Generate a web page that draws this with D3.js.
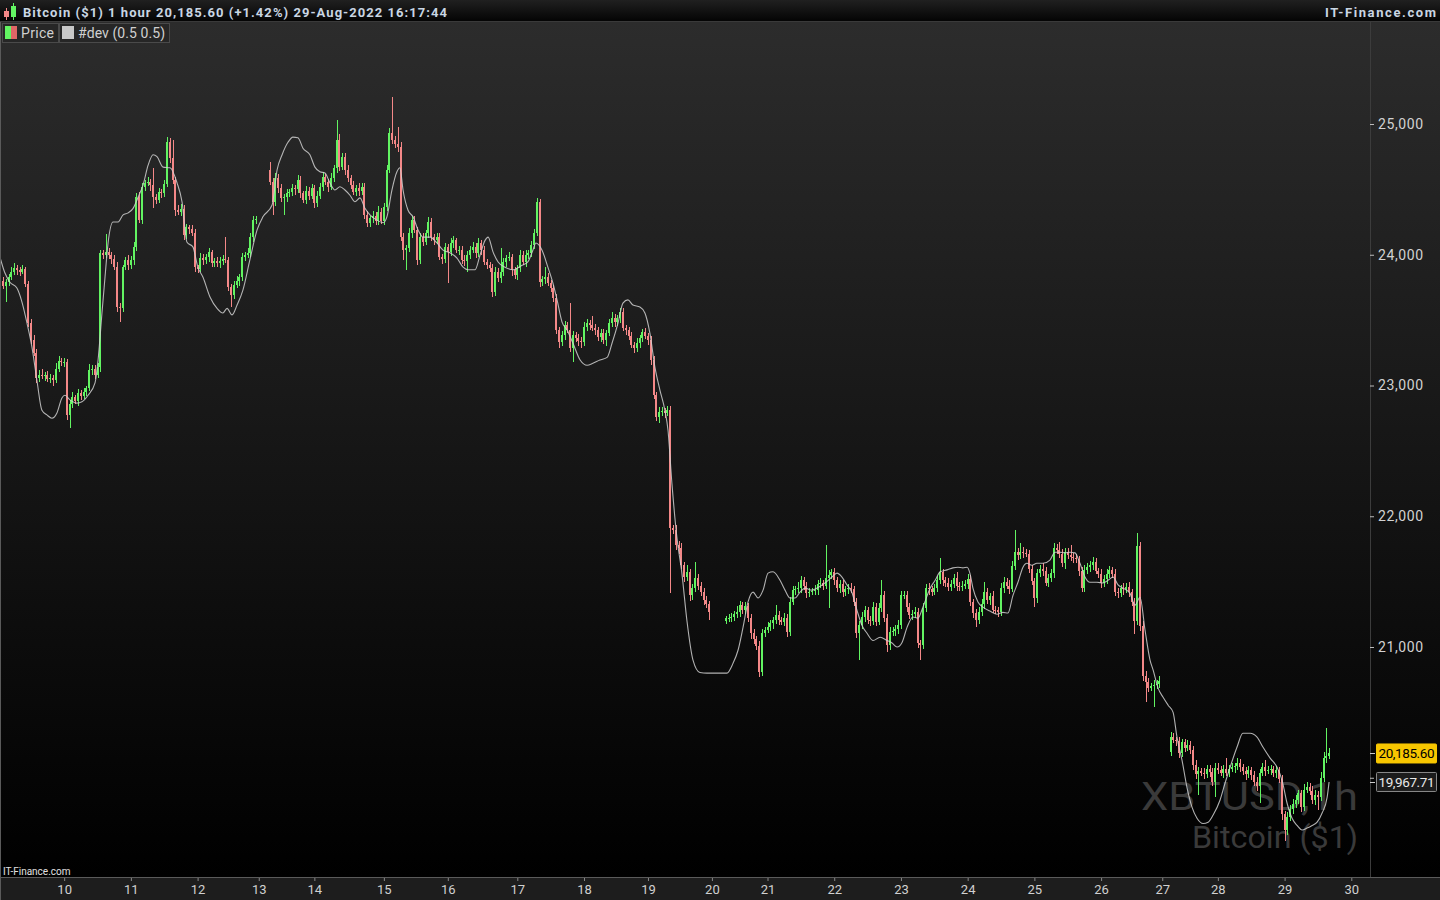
<!DOCTYPE html>
<html><head><meta charset="utf-8">
<script src="https://cdn.jsdelivr.net/npm/d3@7"></script>
<style>html,body{margin:0;padding:0;background:#000;overflow:hidden}svg{display:block}</style>
</head><body>
<svg id="c" width="1440" height="900"></svg>
<script>
// ---------------- DATA (hourly bars, Bitcoin ($1), 9-29 Aug 2022) ----------------
const closes = [
23760,23790,23830,23870,23900,23880,23870,23890,23780,23480,
23350,23250,23060,23080,23070,23080,23050,23060,23040,23130,
23190,23180,23180,22775,22860,22910,22880,22940,22920,22950,
22980,23120,23130,23080,23140,24010,24000,24020,24000,23970,
23910,23600,23590,23905,23960,23920,23960,24060,24440,24265,
24520,24550,24560,24530,24440,24420,24480,24470,24540,24860,
24740,24570,24340,24330,24350,24150,24210,24200,24170,23905,
23890,23975,23960,23980,24020,23935,23950,23940,23950,23970,
23960,23755,23690,23770,23800,23830,23985,24000,24010,24135,
24265,24270,null,null,null,null,24560,24400,24590,24510,
24435,24440,24470,24480,24510,24500,24570,24470,24420,24490,
24450,24510,24395,24450,24520,24595,24560,24520,24590,24660,
24880,24670,24750,24650,24590,24535,24480,24510,24490,24520,
24305,24240,24280,24300,24260,24330,24260,24365,24650,24930,
24880,24850,24825,24135,24035,24050,24165,24265,24190,23960,
24135,24100,24165,24250,24135,24110,24135,23985,23970,24060,
24020,24090,24110,24035,24040,23960,23950,24000,24040,24060,
24010,24090,24040,23945,23920,23900,23715,23870,23820,23870,
23945,23975,23985,23880,23845,23900,23998,23945,24000,24015,
24075,24165,24400,23790,23815,23830,23785,23745,23670,23425,
23330,23385,23460,23425,23285,23385,23360,23340,23330,23445,
23475,23460,23440,23425,23370,23400,23345,23400,23475,23520,
23485,23515,23560,23440,23425,23380,23310,23285,23325,23360,
23410,23380,23345,23195,22925,22760,22795,22805,22790,22810,
21910,21895,21780,21755,21625,21535,21570,21395,21450,21525,
21470,21420,21360,21330,21270,null,null,null,null,null,
21220,21225,21230,21250,21270,21320,21285,21310,21225,21105,
21060,21010,20810,21110,21130,21155,21180,21205,21245,21205,
21195,21225,21115,21345,21435,21440,21450,21510,21465,21410,
21420,21430,21435,21480,21490,21470,21530,21550,21570,21510,
21450,21480,21420,21440,21450,21440,21345,21105,21165,21230,
21280,21205,21200,21305,21190,21300,21395,21225,21015,21115,
21120,21140,21165,21395,21400,21305,21245,21255,21265,21030,
21015,21300,21450,21440,21420,21455,21510,21570,21510,21490,
21460,21480,21530,21470,21460,21470,21480,21520,21345,21260,
21205,21270,21330,21420,21360,21390,21285,21280,21270,21450,
21500,21470,21445,21620,21730,21700,21730,21720,21715,21600,
21505,21375,21565,21600,21580,21490,21530,21565,21755,21740,
21715,21640,21730,21700,21690,21680,21670,21580,21450,21590,
21610,21630,21650,21580,21560,21490,21520,21560,21590,21560,
21420,21410,21450,21440,21460,21420,21345,21200,21770,21160,
20780,20730,20690,20700,20710,20720,20740,null,null,null,
20310,20290,20280,20190,20270,20230,20250,20215,20100,20025,
20050,20040,20025,20070,20045,19970,20075,20060,20040,20070,
20040,20070,20080,20090,20110,20080,20050,20025,20060,20020,
19970,19935,20040,20080,20050,20060,20065,20035,20060,19990,
19720,19600,19700,19760,19800,19830,19880,19780,19910,19930,
19900,19830,19870,19850,20000,20150,20170,20185.6];

// opening price of the first bar after each data gap: [bar, open]
const sessionOpens = [[0,23800],[96,24650],[260,21200],[420,20195]];

// wick lengths above / below the body, in $
const upWick = [
30,25,20,35,40,20,25,30,15,20, 25,40,30,35,45,20,30,25,20,40,
35,20,30,25,30,40,20,35,25,30, 20,45,30,25,35,30,25,140,30,20,
25,35,30,20,25,35,30,40,30,40, 30,25,35,20,130,25,30,20,35,40,
30,140,25,40,35,30,25,20,30,25, 20,35,30,25,30,20,25,35,30,30,
165,25,20,30,35,25,30,20,40,35, 30,25,0,0,0,0,60,30,35,25,
30,25,35,20,30,25,40,30,20,35, 25,30,20,35,30,40,25,20,35,30,
150,40,30,25,35,20,30,25,35,30, 25,30,20,35,30,40,25,30,35,40,
275,30,125,35,30,25,40,35,30,25, 30,35,25,40,30,25,30,35,20,30,
25,35,30,20,25,30,35,30,25,40, 30,35,25,30,20,25,30,35,25,180,
30,25,35,20,30,25,40,30,35,25, 30,35,35,30,25,75,30,25,20,30,
25,35,30,25,205,30,25,35,30,40, 30,25,75,30,25,35,30,25,30,40,
30,25,30,35,25,20,30,25,35,30, 25,30,20,35,30,25,40,30,25,35,
30,25,35,30,40,25,60,30,35,125, 30,25,35,30,25,0,0,0,0,0,
20,25,30,25,40,30,25,35,30,25, 30,25,35,30,25,40,30,25,75,30,
25,35,30,40,35,30,45,30,25,35, 30,25,40,30,35,25,250,40,30,35,
25,30,35,25,30,40,25,30,35,40, 30,25,35,40,30,35,115,30,25,35,
30,25,40,35,30,25,35,30,40,30, 25,35,30,40,25,30,35,110,30,25,
35,30,25,40,30,35,30,40,30,25, 30,35,40,75,30,25,35,30,25,40,
35,30,40,35,165,30,65,35,30,25, 30,25,35,30,40,30,25,35,40,30,
60,35,30,25,80,30,35,25,30,35, 30,25,35,30,25,40,30,35,30,25,
35,30,25,40,30,35,25,30,100,30, 40,35,30,25,40,30,35,0,0,0,
40,30,25,35,30,25,40,30,25,35, 30,25,35,30,25,30,35,40,30,25,
80,30,35,25,40,30,25,35,30,25, 30,35,25,30,55,30,35,25,30,25,
30,25,35,30,40,35,30,25,40,35, 30,40,35,30,45,50,210,40];
const dnWick = [
25,120,30,20,25,35,30,20,25,30, 35,25,40,30,20,35,25,30,40,20,
25,30,35,40,100,30,25,35,30,20, 30,25,40,30,25,35,30,25,30,40,
30,35,105,30,25,40,30,35,30,25, 30,35,25,40,80,30,25,35,30,20,
35,30,40,25,30,35,30,40,25,35, 30,25,40,30,35,25,30,35,40,30,
25,35,90,30,25,40,30,35,25,30, 35,30,0,0,0,0,30,95,25,35,
30,130,35,25,30,40,30,35,25,30, 35,25,40,30,25,35,30,40,25,30,
35,30,25,40,30,35,25,30,40,30, 35,25,30,40,35,30,25,35,30,25,
30,35,40,30,75,150,30,35,25,40, 30,35,25,40,30,35,30,25,40,30,
235,30,35,25,40,30,35,80,30,25, 35,30,40,25,30,35,40,30,25,35,
30,35,25,40,30,35,30,25,40,30, 35,30,25,35,30,40,25,30,35,30,
40,30,35,25,30,105,30,35,40,25, 30,35,25,40,30,35,30,40,25,30,
35,30,40,25,35,30,25,40,30,35, 30,25,35,40,30,35,45,30,40,25,
500,30,35,40,30,35,30,40,35,30, 35,30,40,35,65,0,0,0,0,0,
25,30,35,30,25,40,30,35,30,40, 35,30,40,30,35,25,30,40,30,35,
30,35,40,30,25,35,30,40,30,35, 30,25,35,40,30,35,30,230,30,35,
30,35,40,30,35,25,30,35,205,30, 35,30,40,35,30,25,35,30,55,40,
30,35,40,30,25,35,30,40,30,35, 115,30,35,40,30,25,35,30,40,30,
35,30,25,40,30,35,30,40,30,35, 55,30,35,40,30,35,25,30,40,30,
35,30,40,25,30,35,30,40,30,35, 30,70,35,30,40,25,30,35,40,30,
35,30,40,25,30,35,30,40,30,30, 30,35,40,25,30,35,30,40,30,35,
30,35,25,40,30,35,30,100,30,35, 40,150,35,30,160,35,30,0,0,0,
30,25,35,40,30,35,25,30,40,35, 160,30,35,25,40,30,120,35,30,40,
30,35,25,40,30,35,30,40,25,35, 30,40,125,30,35,25,40,30,35,30,
40,80,35,30,40,35,30,40,35,30, 35,30,40,100,30,35,40,30];

// "#dev (0.5 0.5)" indicator: [bar, value]
const devPoints = [
[-1,23975],[0.7,23860],[2.5,23790],[5,23745],[6.8,23640],[8.6,23480],[10.4,23295],[12.2,23040],[14,22810],[15.8,22775],
[17.6,22750],[19.4,22790],[21.2,22905],[22.3,22925],[24.1,22890],[26.6,22865],[28.4,22875],[30.6,22925],[33.1,23020],[34.2,23195],
[35.6,23555],[36.7,23830],[37.8,24090],[39.6,24250],[41.4,24250],[43.2,24305],[45,24320],[46.8,24355],[48.6,24440],[50.4,24535],
[52.2,24685],[54,24765],[55.4,24750],[57.6,24670],[60.1,24665],[62.6,24550],[64.4,24405],[66.2,24095],[68.3,24060],[70.1,23905],
[71.9,23830],[74.5,23675],[77,23590],[79.1,23555],[80.6,23590],[82.4,23540],[84.2,23615],[86.3,23730],[88.8,23960],[91.4,24190],
[93.5,24290],[96.8,24380],[98.6,24650],[100.4,24765],[102.5,24860],[104.3,24900],[106.1,24895],[107.9,24815],[110.4,24765],[112.2,24670],
[114,24635],[115.8,24625],[117.6,24550],[119.4,24495],[121.2,24520],[123,24495],[124.8,24455],[126.6,24405],[128.4,24435],[130.2,24355],
[132,24305],[134.5,24265],[136.7,24245],[138.1,24290],[139.9,24495],[141.7,24635],[142.8,24665],[143.9,24495],[145.7,24340],[147.5,24290],
[149.3,24190],[151.1,24135],[153.6,24135],[156.1,24090],[158.3,24035],[160.8,24015],[163.3,23975],[165.5,23905],[167.3,23885],[169.8,23885],
[171.6,23998],[173.4,24110],[174.5,24135],[176.3,24020],[178.1,23945],[180.6,23905],[183.5,23885],[186.7,23920],[188.8,23945],[190.6,24035],
[191.7,24090],[193.9,24035],[196,23905],[197.8,23785],[199.3,23655],[201.1,23485],[202.9,23425],[205,23325],[207.6,23195],[210.1,23155],
[212.2,23170],[214.7,23195],[217.3,23215],[219.1,23325],[221.2,23475],[223,23630],[224.8,23655],[226.6,23615],[229.1,23600],[230.9,23555],
[232.7,23400],[234.5,23140],[236.3,22965],[238.1,22810],[239.2,22660],[240.6,22255],[242.4,21840],[244.2,21565],[246,21205],[248.2,20900],
[250.7,20805],[253.2,20800],[260.4,20800],[262.6,20875],[264.4,20975],[266.2,21150],[268,21345],[269.8,21420],[271.6,21375],[273.4,21435],
[275.2,21565],[277,21575],[279.5,21510],[281.3,21435],[283.1,21375],[284.9,21375],[286.7,21420],[288.5,21450],[291,21435],[293.2,21455],
[295.7,21490],[298.2,21535],[300,21565],[301.8,21535],[303.6,21475],[305.4,21415],[307.2,21280],[309,21165],[310.8,21105],[313,21050],
[315.5,21075],[318,21050],[319.8,21030],[321.6,21000],[323.4,21035],[325.2,21150],[327.3,21230],[329.1,21220],[330.9,21305],[333.5,21450],
[335.3,21510],[337.1,21575],[339.6,21590],[341.7,21605],[343.5,21610],[345.3,21605],[346.8,21610],[347.8,21565],[348.9,21450],[350.7,21345],
[352.5,21305],[355,21275],[357.6,21250],[359.7,21265],[361.5,21260],[363.3,21395],[365.1,21495],[366.9,21610],[368.3,21640],[370.1,21625],
[371.9,21640],[374.1,21640],[376.6,21665],[378.4,21725],[380.2,21725],[382,21720],[383.8,21725],[385.6,21720],[387.4,21640],[389.2,21535],
[391,21495],[393.5,21495],[395.7,21490],[397.5,21510],[399.3,21535],[401.1,21475],[402.9,21450],[405.4,21410],[407.2,21320],[409,21380],
[410.8,21130],[412.6,20900],[413.7,20825],[415.5,20685],[417.3,20615],[419.1,20555],[420.9,20500],[422.3,20310],[424.1,20135],[425.9,19925],
[427.7,19775],[429.5,19690],[431.7,19650],[433.5,19660],[435.3,19715],[437.8,19830],[439.6,19960],[441.4,20080],[443.9,20235],[446,20340],
[448.6,20340],[451.1,20310],[453.2,20235],[455.8,20150],[458.3,20080],[460.1,19980],[461.9,19805],[463.7,19690],[465.5,19635],[467.3,19600],
[469.1,19615],[470.9,19635],[472.7,19660],[474.5,19730],[476.3,19850],[477,19967.71]];

const dayLabels = ["10","11","12","13","14","15","16","17","18","19","20","21","22","23","24","25","26","27","28","29","30"];
const dayBars   = [22,46,70,92,112,137,160,185,209,232,255,275,299,323,347,371,395,417,437,461,485];
const priceTicks = [20000,21000,22000,23000,24000,25000];
const lastPrice = 20185.60;
const devLast = 19967.71;
const headerTitle = "Bitcoin ($1) 1 hour 20,185.60 (+1.42%) 29-Aug-2022 16:17:44";
const brand = "IT-Finance.com";
const legendItems = ["Price", "#dev (0.5 0.5)"];
const watermark = ["XBTUSD,1h", "Bitcoin ($1)"];

// ---------------- LAYOUT ----------------
const W = 1440, H = 900;
const plot = {left: 1, right: 1370, top: 22, bottom: 877};
const UP = "#62f462", DN = "#f48888";
const FONT = "Roboto, 'Noto Sans', sans-serif";
const svg = d3.select("#c");
const defs = svg.append("defs");

const bg = defs.append("linearGradient").attr("id","bg").attr("x1",0).attr("y1",0).attr("x2",0).attr("y2",1);
bg.append("stop").attr("offset","0%").attr("stop-color","#2c2c2c");
bg.append("stop").attr("offset","100%").attr("stop-color","#000");
const hg = defs.append("linearGradient").attr("id","hg").attr("x1",0).attr("y1",0).attr("x2",0).attr("y2",1);
hg.append("stop").attr("offset","0%").attr("stop-color","#202020");
hg.append("stop").attr("offset","100%").attr("stop-color","#030303");
defs.append("clipPath").attr("id","clip").append("rect")
  .attr("x",plot.left).attr("y",plot.top).attr("width",plot.right-plot.left).attr("height",plot.bottom-plot.top);

// backgrounds
svg.append("rect").attr("x",0).attr("y",plot.top).attr("width",W).attr("height",plot.bottom-plot.top).attr("fill","url(#bg)");
svg.append("rect").attr("x",0).attr("y",0).attr("width",W).attr("height",plot.top).attr("fill","url(#hg)");
svg.append("rect").attr("x",0).attr("y",plot.bottom).attr("width",W).attr("height",H-plot.bottom).attr("fill","#1d1d1d");
svg.append("line").attr("x1",0).attr("x2",W).attr("y1",plot.bottom+0.5).attr("y2",plot.bottom+0.5).attr("stroke","#5a5a5a");
svg.append("line").attr("x1",0.5).attr("x2",0.5).attr("y1",plot.top).attr("y2",H).attr("stroke","#5a5a5a");
svg.append("line").attr("x1",plot.right+0.5).attr("x2",plot.right+0.5).attr("y1",plot.top).attr("y2",plot.bottom).attr("stroke","#3c3c3c");
svg.append("line").attr("x1",0).attr("x2",W).attr("y1",plot.top-0.5).attr("y2",plot.top-0.5).attr("stroke","#3a3a3a");

// scales
const x = d3.scaleLinear().domain([0, 477]).range([3, 3 + 2.78*477]);
const y = d3.scaleLinear().domain([21000, 25000]).range([647, 124]);

// watermark
const wm = svg.append("g").attr("fill","#3a3a3a").attr("font-family",FONT).attr("text-anchor","end");
wm.append("text").attr("x",1358).attr("y",810).attr("font-size",39).attr("textLength",217).attr("lengthAdjust","spacingAndGlyphs").text(watermark[0]);
wm.append("text").attr("x",1358).attr("y",848).attr("font-size",31).attr("textLength",166).attr("lengthAdjust","spacingAndGlyphs").text(watermark[1]);

// bars
const bars = [];
const so = new Map(sessionOpens);
closes.forEach((c,i) => {
  if (c == null) return;
  const o = so.has(i) ? so.get(i) : closes[i-1];
  const h = Math.max(o,c) + upWick[i], l = Math.min(o,c) - dnWick[i];
  bars.push({i, o, h, l, c});
});

const g = svg.append("g").attr("clip-path","url(#clip)").attr("shape-rendering","crispEdges");
const cg = g.selectAll("g.bar").data(bars).join("g").attr("class","bar");
cg.append("rect")
  .attr("x", d => Math.round(x(d.i)))
  .attr("width", 1)
  .attr("y", d => y(d.h))
  .attr("height", d => Math.max(1, y(d.l) - y(d.h)))
  .attr("fill", d => d.c >= d.o ? UP : DN);
cg.append("rect")
  .attr("x", d => Math.round(x(d.i)) - 1)
  .attr("width", 2)
  .attr("y", d => y(Math.max(d.o,d.c)))
  .attr("height", d => Math.max(1, Math.abs(y(d.o) - y(d.c))))
  .attr("fill", d => d.c >= d.o ? UP : DN);

// dev line
svg.append("g").attr("clip-path","url(#clip)").append("path")
  .datum(devPoints)
  .attr("fill","none").attr("stroke","#cfcfcf").attr("stroke-opacity",0.85).attr("stroke-width",1.1)
  .attr("d", d3.line().x(d => x(d[0])).y(d => y(d[1])).curve(d3.curveMonotoneX));

// y axis
const ya = svg.append("g").attr("transform",`translate(${plot.right},0)`)
  .call(d3.axisRight(y).tickValues(priceTicks).tickFormat(d3.format(",")).tickSize(4).tickPadding(4));
ya.select(".domain").remove();
ya.selectAll("line").attr("stroke","#bbb");
ya.selectAll("text").attr("fill","#d2d2d2").attr("font-size",14).attr("letter-spacing","0.6px").attr("font-family",FONT);

// value labels on the y axis
function tag(v, fill, stroke, color, txt){
  const gy = y(v);
  const t = svg.append("g");
  t.append("line").attr("x1",plot.right).attr("x2",plot.right+5).attr("y1",Math.round(gy)+0.5).attr("y2",Math.round(gy)+0.5).attr("stroke","#ccc");
  t.append("rect").attr("x",1376.5).attr("y",gy-9.5).attr("width",60).attr("height",19)
    .attr("fill",fill).attr("stroke",stroke).attr("rx",1);
  t.append("text").attr("x",1406.5).attr("y",gy+5).attr("text-anchor","middle")
    .attr("font-family",FONT).attr("font-size",13.5).attr("fill",color)
    .attr("textLength",56).attr("lengthAdjust","spacing").text(txt);
}
tag(lastPrice, "#f7c600", "#f7c600", "#000", d3.format(",.2f")(lastPrice));
tag(devLast, "#1c1c1c", "#8a8a8a", "#e8e8e8", d3.format(",.2f")(devLast));

// x axis
const xa = svg.append("g").attr("transform",`translate(0,${plot.bottom+1})`)
  .call(d3.axisBottom(x).tickValues(dayBars).tickFormat((d,i) => dayLabels[i]).tickSize(3).tickPadding(4));
xa.select(".domain").remove();
xa.selectAll("line").attr("stroke","#888");
xa.selectAll("text").attr("fill","#d0d0d0").attr("font-size",13).attr("font-family",FONT);

svg.append("text").attr("x",3).attr("y",875).attr("font-size",10).attr("fill","#e0e0e0")
  .attr("font-family",FONT).text(brand);

// header
const ic = svg.append("g").attr("shape-rendering","crispEdges");
ic.append("rect").attr("x",6).attr("y",8).attr("width",1).attr("height",12).attr("fill",DN);
ic.append("rect").attr("x",4).attr("y",11).attr("width",5).attr("height",6).attr("fill",DN);
ic.append("rect").attr("x",13).attr("y",3).attr("width",1).attr("height",17).attr("fill",UP);
ic.append("rect").attr("x",11).attr("y",6).attr("width",5).attr("height",11).attr("fill",UP);
svg.append("text").attr("x",23).attr("y",17).attr("font-size",13).attr("font-weight","bold")
  .attr("font-family",FONT).attr("fill","#c9d6e3")
  .attr("textLength",424).attr("lengthAdjust","spacing").text(headerTitle);
svg.append("text").attr("x",1436).attr("y",17).attr("font-size",13).attr("font-weight","bold").attr("text-anchor","end")
  .attr("font-family",FONT).attr("fill","#c9d6e3")
  .attr("textLength",111).attr("lengthAdjust","spacing").text(brand);

// legend
const lg = svg.append("g").attr("font-family",FONT).attr("font-size",14).attr("fill","#d0d0d0");
lg.append("rect").attr("x",2.5).attr("y",23.5).attr("width",56).attr("height",19).attr("fill","#262626").attr("stroke","#4a4a4a");
lg.append("rect").attr("x",5).attr("y",26).attr("width",6).attr("height",13).attr("fill",UP);
lg.append("rect").attr("x",11).attr("y",26).attr("width",6).attr("height",13).attr("fill","#e06666");
lg.append("text").attr("x",21).attr("y",38).attr("textLength",33).attr("lengthAdjust","spacing").text(legendItems[0]);
lg.append("rect").attr("x",59.5).attr("y",23.5).attr("width",110).attr("height",19).attr("fill","#262626").attr("stroke","#4a4a4a");
lg.append("rect").attr("x",62).attr("y",26).attr("width",12).attr("height",13).attr("fill","#c8c8c8");
lg.append("text").attr("x",78).attr("y",38).attr("textLength",87).attr("lengthAdjust","spacing").text(legendItems[1]);
</script>
</body></html>
